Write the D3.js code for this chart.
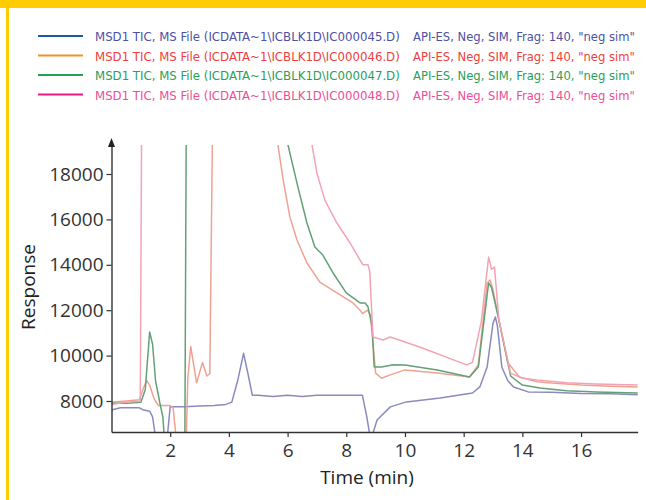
<!DOCTYPE html>
<html>
<head>
<meta charset="utf-8">
<script src="https://cdn.jsdelivr.net/npm/d3@7"></script>
<style>
  body { margin: 0; background: #fff; }
  svg { display: block; }
</style>
</head>
<body>
<div id="chart"></div>
<script>
// four TIC traces, time in minutes, response in counts
var names = [
  "MSD1 TIC, MS File (ICDATA~1\\ICBLK1D\\IC000045.D)",
  "MSD1 TIC, MS File (ICDATA~1\\ICBLK1D\\IC000046.D)",
  "MSD1 TIC, MS File (ICDATA~1\\ICBLK1D\\IC000047.D)",
  "MSD1 TIC, MS File (ICDATA~1\\ICBLK1D\\IC000048.D)"
];
var method = 'API-ES, Neg, SIM, Frag: 140, "neg sim"';

var blueT = [0, 0.3, 0.6, 0.95, 1.1, 1.3, 1.4, 1.5, 1.9, 2.0, 2.5, 3.0, 3.5, 3.9, 4.1, 4.3, 4.5, 4.65, 4.8, 5.0, 5.5, 6.0, 6.5, 7.0, 7.5, 8.0, 8.55, 8.7, 8.8, 8.9, 9.05, 9.5, 10.05, 11.2, 12.3, 12.55, 12.8, 13.0, 13.08, 13.15, 13.3, 13.5, 13.7, 14.2, 15.0, 16.0, 17.0, 17.93];
var blueV = [7600, 7700, 7700, 7700, 7600, 7550, 7300, 6400, 6400, 7750, 7750, 7780, 7800, 7850, 7950, 8900, 10100, 9200, 8250, 8250, 8200, 8250, 8200, 8250, 8250, 8250, 8250, 7300, 6500, 6550, 7160, 7740, 7960, 8130, 8350, 8620, 9500, 11430, 11700, 11300, 9500, 8900, 8620, 8400, 8380, 8330, 8320, 8280];

var orangeT = [0, 0.5, 0.95, 1.1, 1.2, 1.3, 1.45, 1.6, 2.0, 2.1, 2.2, 2.55, 2.6, 2.7, 2.9, 3.1, 3.25, 3.35, 3.45, 5.6, 5.67, 5.85, 6.08, 6.32, 6.66, 7.1, 7.68, 8.23, 8.47, 8.55, 8.72, 8.82, 8.9, 9.0, 9.2, 9.5, 10.0, 11.1, 12.2, 12.5, 12.8, 12.9, 13.0, 13.2, 13.5, 13.9, 14.5, 15.0, 16.0, 17.0, 17.93];
var orangeV = [7950, 8000, 8050, 8600, 8900, 8700, 8100, 7800, 7800, 7700, 6400, 6400, 9000, 10400, 8800, 9700, 9100, 9200, 21000, 20000, 19300, 17730, 16100, 15090, 14080, 13240, 12760, 12320, 12000, 11850, 12000, 11800, 10700, 9230, 9000, 9150, 9370, 9230, 9060, 9600, 13200, 13330, 12900, 11570, 9700, 9060, 8850, 8790, 8700, 8650, 8620];

var greenT = [0, 0.5, 1.0, 1.15, 1.3, 1.4, 1.5, 1.65, 1.75, 1.8, 2.5, 2.55, 5.9, 6.01, 6.32, 6.66, 6.93, 7.2, 7.55, 8.0, 8.47, 8.64, 8.74, 8.88, 8.95, 9.2, 9.6, 10.0, 11.1, 12.2, 12.5, 12.85, 12.95, 13.2, 13.6, 14.0, 14.6, 15.5, 16.5, 17.93];
var greenV = [7900, 7900, 7950, 8500, 11040, 10500, 8900, 7900, 7300, 6400, 6400, 21000, 20000, 19300, 17600, 15840, 14780, 14430, 13640, 12760, 12320, 12320, 12150, 11300, 9500, 9500, 9600, 9590, 9370, 9060, 9500, 13200, 13000, 11570, 9100, 8700, 8570, 8450, 8400, 8350];

var pinkT = [0, 0.5, 0.98, 1.03, 6.7, 6.83, 7.0, 7.27, 7.68, 8.13, 8.47, 8.57, 8.74, 8.8, 8.91, 9.25, 9.5, 10.5, 12.1, 12.3, 12.6, 12.85, 12.95, 13.05, 13.2, 13.6, 14.0, 14.5, 15.5, 16.5, 17.93];
var pinkV = [7850, 7950, 8000, 21000, 20000, 19300, 18040, 16850, 15840, 14960, 14210, 14000, 14000, 13700, 10820, 10690, 10820, 10380, 9590, 9700, 11500, 14340, 13800, 13900, 11570, 9230, 9000, 8920, 8800, 8750, 8700];

var xTicks = [2, 4, 6, 8, 10, 12, 14, 16];
var yTicks = [8000, 10000, 12000, 14000, 16000, 18000];

var legendLine = ["#1d5ba8", "#f39126", "#22a352", "#ec1a82"];
var legendText = ["#4d51a3", "#ee4040", "#27a05a", "#ee4d98"];
var traceColor = ["#8a8abf", "#eea292", "#62a077", "#f4a3b5"];

var series = [
  { t: blueT, v: blueV },
  { t: orangeT, v: orangeV },
  { t: greenT, v: greenV },
  { t: pinkT, v: pinkV }
];

var W = 646, H = 500;
var svg = d3.select("#chart").append("svg").attr("width", W).attr("height", H);

// yellow frame
svg.append("rect").attr("x", 0).attr("y", 0).attr("width", W).attr("height", 8).attr("fill", "#ffcc00");
svg.append("rect").attr("x", 6).attr("y", 0).attr("width", 3).attr("height", H).attr("fill", "#ffcc00");

// legend - font size fitted so each text spans its width in the reference
var legFont = "'Liberation Sans Narrow', 'DejaVu Sans Condensed', sans-serif";
var leg = svg.append("g");

function fitText(sel, width) {
  var w = sel.node().getComputedTextLength();
  sel.style("font-size", (14 * width / w).toFixed(2) + "px");
}

names.forEach(function (n, i) {
  var yy = 36 + i * 19.5;
  leg.append("line")
    .attr("x1", 38).attr("x2", 83).attr("y1", yy).attr("y2", yy)
    .attr("stroke", legendLine[i]).attr("stroke-width", 2);
  var t1 = leg.append("text")
    .attr("x", 95).attr("y", yy + 5)
    .attr("fill", legendText[i])
    .style("font-family", legFont)
    .style("font-size", "14px")
    .text(n);
  fitText(t1, 305);
  var t2 = leg.append("text")
    .attr("x", 413).attr("y", yy + 5)
    .attr("fill", legendText[i])
    .style("font-family", legFont)
    .style("font-size", "14px")
    .text(method);
  fitText(t2, 222);
});

var x = d3.scaleLinear().domain([0, 17.93]).range([111.5, 637.7]);
var y = d3.scaleLinear().domain([6634, 19410]).range([432, 142]);

svg.append("clipPath").attr("id", "plotclip")
  .append("rect").attr("x", 111.5).attr("y", 145).attr("width", 527).attr("height", 287);

var line = d3.line()
  .x(function (d) { return x(d[0]); })
  .y(function (d) { return y(d[1]); });

var traces = svg.append("g").attr("clip-path", "url(#plotclip)");
series.forEach(function (s, i) {
  var pts = s.t.map(function (t, k) { return [t, s.v[k]]; });
  traces.append("path")
    .datum(pts)
    .attr("d", line)
    .attr("fill", "none")
    .attr("stroke", traceColor[i])
    .attr("stroke-width", 1.5)
    .attr("stroke-linejoin", "round");
});

var fontAxis = "'Open Sans', sans-serif";

var xAxis = svg.append("g")
  .attr("transform", "translate(0,432)")
  .call(d3.axisBottom(x).tickValues(xTicks).tickSize(5).tickSizeOuter(0).tickPadding(7));
var yAxis = svg.append("g")
  .attr("transform", "translate(111.5,0)")
  .call(d3.axisLeft(y).tickValues(yTicks).tickFormat(d3.format("d")).tickSize(5).tickSizeOuter(0).tickPadding(3));

[xAxis, yAxis].forEach(function (a) {
  a.select(".domain").attr("stroke", "#333").attr("stroke-width", 1.4);
  a.selectAll(".tick line").attr("stroke", "#333").attr("stroke-width", 1.2);
  a.selectAll(".tick text")
    .attr("fill", "#333")
    .style("font-family", fontAxis)
    .style("font-size", "19px");
});

// y axis arrow head
svg.append("path")
  .attr("d", "M111.5,138 L108,147 L115,147 Z")
  .attr("fill", "#222");

svg.append("text")
  .attr("x", 367).attr("y", 484)
  .attr("text-anchor", "middle")
  .attr("fill", "#222")
  .style("font-family", fontAxis)
  .style("font-size", "19px")
  .text("Time (min)");

svg.append("text")
  .attr("transform", "translate(35,287) rotate(-90)")
  .attr("text-anchor", "middle")
  .attr("fill", "#222")
  .style("font-family", fontAxis)
  .style("font-size", "19px")
  .text("Response");
</script>
</body>
</html>
